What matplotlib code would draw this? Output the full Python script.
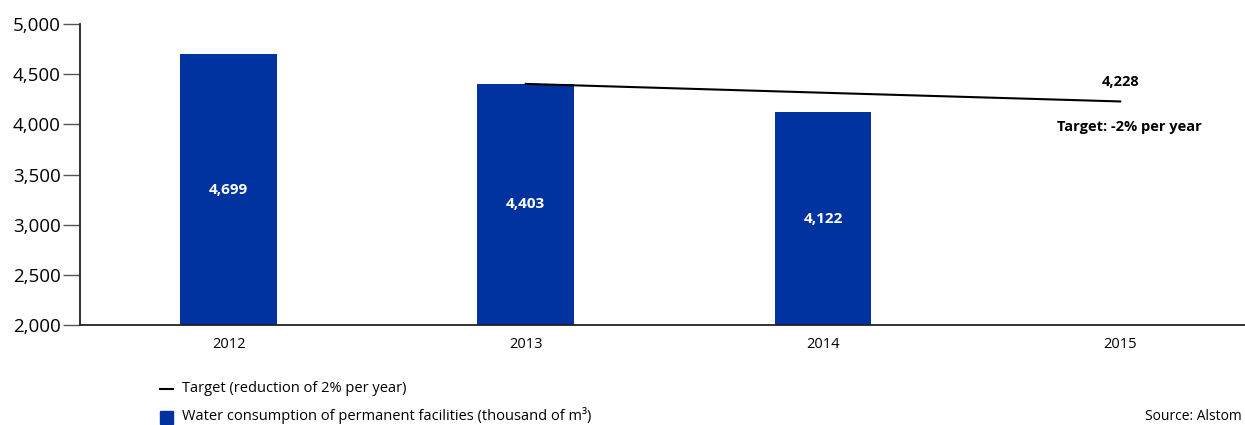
import matplotlib.pyplot as plt
from matplotlib.patches import Rectangle
from matplotlib.lines import Line2D

plt.rcParams['font.family'] = ['Open Sans', 'DejaVu Sans']

years = ['2012', '2013', '2014', '2015']
consumption = [4699, 4403, 4122]
target_years = [1, 2, 3]
target_values = [4403, 4315, 4228]
yticks = [2000, 2500, 3000, 3500, 4000, 4500, 5000]

bar_color = '#0033a0'

fig = plt.figure(figsize=(12.45, 4.25), dpi=100)
ax = fig.add_axes([80 / 1245, 1 - 325 / 425, 1 - 80 / 1245, (325 - 24) / 425])

x = list(range(len(consumption)))
ax.bar(x, [v - 2000 for v in consumption], bottom=2000, width=0.325, color=bar_color)
for xi, v in zip(x, consumption):
    ax.text(xi, (2000 + v) / 2, f'{v:,}', color='white', fontweight='bold',
            fontsize=11, ha='center', va='center')

ax.plot(target_years, target_values, color='black', lw=1.5)
ax.text(3, target_values[-1] + 190, f'{target_values[-1]:,}', fontweight='bold',
        fontsize=10.5, ha='center', va='center')
ax.text(3.03, target_values[-1] - 250, 'Target: -2% per year', fontweight='bold',
        fontsize=10.5, ha='center', va='center')

ax.set_ylim(2000, 5000)
ax.set_xlim(-0.5, 3.42)
ax.set_yticks(yticks)
ax.set_yticklabels([f'{t:,}' for t in yticks], fontsize=13.5)
ax.set_xticks(range(len(years)))
ax.set_xticklabels(years, fontsize=10.5)
ax.tick_params(axis='x', length=0, pad=9)
ax.tick_params(axis='y', length=12, width=1, color='#555555', pad=2)
for s in ['top', 'right']:
    ax.spines[s].set_visible(False)
for s in ['left', 'bottom']:
    ax.spines[s].set_linewidth(1.3)
    ax.spines[s].set_color('#222222')

# legend below the chart
fig.add_artist(Line2D([160 / 1245, 173 / 1245], [1 - 389 / 425] * 2, color='black', lw=1.5))
fig.add_artist(Rectangle((160 / 1245, 1 - 424 / 425), 13 / 1245, 13 / 425,
                         color=bar_color, transform=fig.transFigure))
fig.text(182 / 1245, 1 - 389 / 425, 'Target (reduction of 2% per year)', fontsize=10.5, va='center')
fig.text(182 / 1245, 1 - 416 / 425, 'Water consumption of permanent facilities (thousand of m³)',
         fontsize=10.5, va='center')
fig.text(1242 / 1245, 1 - 416 / 425, 'Source: Alstom', fontsize=10, va='center', ha='right')

fig.savefig('out.png', dpi=100)
